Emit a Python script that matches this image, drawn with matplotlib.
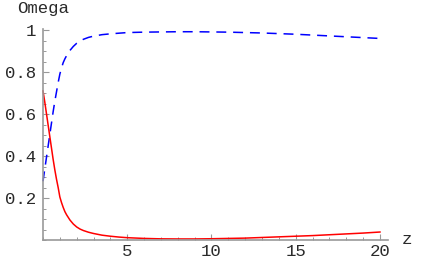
import matplotlib
matplotlib.use("Agg")
import matplotlib.pyplot as plt
from matplotlib.ticker import MultipleLocator, FixedLocator

# data
z_red = [0, 0.1, 0.2, 0.3, 0.4, 0.5, 0.6, 0.7, 0.8, 0.9, 1.0, 1.1, 1.2, 1.3, 1.4, 1.6, 1.8, 2.0, 2.2, 2.4, 2.7, 3.0, 3.5, 4.0, 4.5, 5, 6, 7, 8, 9, 10, 11, 12, 13, 14, 15, 16, 17, 18, 19, 20]
omega_red = [0.71, 0.66, 0.605, 0.55, 0.495, 0.44, 0.385, 0.335, 0.29, 0.25, 0.205, 0.178, 0.155, 0.135, 0.12, 0.095, 0.076, 0.062, 0.052, 0.045, 0.037, 0.031, 0.023, 0.018, 0.014, 0.011, 0.0075, 0.0055, 0.005, 0.005, 0.006, 0.0075, 0.009, 0.012, 0.015, 0.018, 0.021, 0.025, 0.029, 0.033, 0.038]
z_blue = [0, 0.1, 0.2, 0.3, 0.4, 0.5, 0.6, 0.7, 0.8, 0.9, 1.0, 1.1, 1.2, 1.3, 1.4, 1.6, 1.8, 2.0, 2.2, 2.4, 2.7, 3.0, 3.5, 4.0, 4.5, 5, 6, 7, 8, 9, 10, 11, 12, 13, 14, 15, 16, 17, 18, 19, 20]
omega_blue = [0.28, 0.335, 0.39, 0.445, 0.50, 0.555, 0.61, 0.66, 0.705, 0.75, 0.79, 0.82, 0.845, 0.863, 0.878, 0.903, 0.922, 0.937, 0.948, 0.956, 0.965, 0.971, 0.978, 0.982, 0.985, 0.988, 0.990, 0.991, 0.992, 0.992, 0.991, 0.990, 0.988, 0.986, 0.983, 0.980, 0.976, 0.972, 0.968, 0.964, 0.960]
y_ticks = [0.2, 0.4, 0.6, 0.8, 1.0]
y_labels = ["0.2", "0.4", "0.6", "0.8", "1"]
x_ticks = [5, 10, 15, 20]
x_labels = ["5", "10", "15", "20"]

W, H = 423, 261
fig = plt.figure(figsize=(W / 100, H / 100), dpi=100)
x0, x1 = 43, 388.4
y0, y1 = 240, 29
ax = fig.add_axes([x0 / W, (H - y0) / H, (x1 - x0) / W, (y0 - y1) / H])
ax.set_xlim(0, 20.5)
ax.set_ylim(0, 1.005)

font = dict(family="Liberation Mono", size=12.5, color="#2a2a2a")
ax.plot(z_blue, omega_blue, color=(0, 0, 1), lw=1.1, dashes=(6.5, 4.5), clip_on=False)
ax.plot(z_red, omega_red, color=(1, 0, 0), lw=1.1, clip_on=False)

for s in ["top", "right"]:
    ax.spines[s].set_visible(False)
for s in ["left", "bottom"]:
    ax.spines[s].set_color("#999999")
    ax.spines[s].set_linewidth(1.2)

ax.xaxis.set_major_locator(FixedLocator(x_ticks))
ax.xaxis.set_minor_locator(MultipleLocator(1))
ax.yaxis.set_major_locator(FixedLocator(y_ticks))
ax.yaxis.set_minor_locator(MultipleLocator(0.05))
ax.set_xticklabels(x_labels, **font)
ax.set_yticklabels(y_labels, **font)
ax.tick_params(which="major", direction="in", length=4, width=0.8, color="#999999", pad=4)
ax.tick_params(which="minor", direction="in", length=2.2, width=0.7, color="#999999")
ax.tick_params(axis="x", pad=3)
ax.tick_params(axis="y", pad=5)

fig.text(43.5 / W, 1 - 9 / H, "Omega", ha="center", va="center", **font)
fig.text(407 / W, 1 - 240 / H, "z", ha="center", va="center", **font)

fig.savefig("out.png", dpi=100)
